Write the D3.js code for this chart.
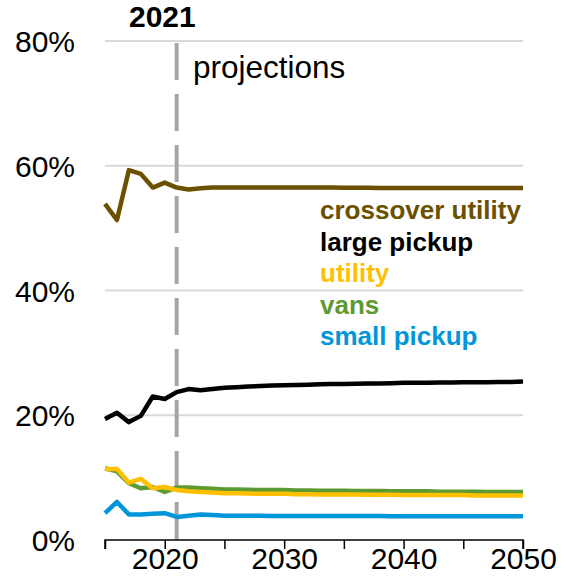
<!DOCTYPE html>
<html>
<head>
<meta charset="utf-8">
<script src="https://cdn.jsdelivr.net/npm/d3@7"></script>
<style>
  html, body { margin: 0; padding: 0; background: #fff; }
  svg { display: block; font-family: "Liberation Sans", Arial, sans-serif; }
</style>
</head>
<body>
<svg id="chart" width="568" height="588"></svg>
<script>
// ---- data ----
const years = [2015,2016,2017,2018,2019,2020,2021,2022,2023,2024,2025,2026,2027,2028,2029,2030,2031,2032,2033,2034,2035,2036,2037,2038,2039,2040,2041,2042,2043,2044,2045,2046,2047,2048,2049,2050];

const crossoverUtility = [53.9,51.3,59.3,58.7,56.5,57.3,56.5,56.2,56.4,56.5,56.5,56.5,56.5,56.5,56.5,56.5,56.5,56.5,56.5,56.5,56.48,56.47,56.46,56.45,56.45,56.45,56.45,56.45,56.45,56.45,56.45,56.45,56.45,56.45,56.45,56.45];
const largePickup     = [19.4,20.4,18.9,19.9,23.0,22.6,23.7,24.2,24.0,24.2,24.4,24.5,24.6,24.7,24.75,24.8,24.85,24.9,24.95,25.0,25.0,25.05,25.1,25.1,25.15,25.2,25.2,25.2,25.25,25.25,25.3,25.3,25.3,25.35,25.35,25.4];
const vans            = [11.5,11.0,9.1,8.3,8.5,7.7,8.4,8.4,8.3,8.2,8.1,8.1,8.05,8.0,8.0,8.0,7.95,7.95,7.9,7.9,7.9,7.85,7.85,7.85,7.8,7.8,7.8,7.8,7.75,7.75,7.75,7.75,7.7,7.7,7.7,7.7];
const utility         = [11.4,11.4,9.2,9.8,8.3,8.5,8.0,7.8,7.7,7.6,7.5,7.5,7.45,7.4,7.4,7.4,7.35,7.35,7.3,7.3,7.3,7.3,7.25,7.25,7.25,7.2,7.2,7.2,7.2,7.2,7.2,7.15,7.15,7.15,7.15,7.15];
const smallPickup     = [4.3,6.1,4.1,4.1,4.2,4.3,3.7,3.9,4.1,4.0,3.9,3.9,3.9,3.9,3.85,3.85,3.85,3.85,3.85,3.85,3.85,3.85,3.85,3.85,3.8,3.8,3.8,3.8,3.8,3.8,3.8,3.8,3.8,3.8,3.8,3.8];

const seriesNames  = ["crossover utility","large pickup","utility","vans","small pickup"];
const seriesColors = ["#6B5000","#000000","#FFC000","#5E9A32","#0096D7"];
const yTicks = [0,20,40,60,80];
const xTicks = [2015,2020,2025,2030,2035,2040,2045,2050];
const xLabels = [2020,2030,2040,2050];
const dividerYear = 2021;

const seriesValues = {
  "crossover utility": crossoverUtility,
  "large pickup": largePickup,
  "utility": utility,
  "vans": vans,
  "small pickup": smallPickup
};
const drawOrder = ["crossover utility","large pickup","vans","utility","small pickup"];

// ---- layout ----
const svg = d3.select("#chart");
const x = d3.scaleLinear().domain([2015, 2050]).range([105, 523]);
const y = d3.scaleLinear().domain([0, 80]).range([540, 41]);
const color = d3.scaleOrdinal().domain(seriesNames).range(seriesColors);

// gridlines
svg.append("g").selectAll("line").data(yTicks.filter(d => d > 0)).join("line")
  .attr("x1", x(2015)).attr("x2", x(2050))
  .attr("y1", d => y(d)).attr("y2", d => y(d))
  .attr("stroke", "#d9d9d9").attr("stroke-width", 2);

// y labels
svg.append("g").selectAll("text").data(yTicks).join("text")
  .attr("x", 75).attr("y", d => y(d) + 11)
  .attr("text-anchor", "end")
  .style("font-size", "30px").attr("fill", "#000")
  .text(d => d + "%");

// dashed divider
svg.append("line")
  .attr("x1", x(dividerYear)).attr("x2", x(dividerYear))
  .attr("y1", y(80) + 2).attr("y2", y(0))
  .attr("stroke", "#a6a6a6").attr("stroke-width", 4)
  .attr("stroke-dasharray", "37,14");

svg.append("text")
  .attr("x", 129).attr("y", 27)
  .style("font-size", "30px").style("font-weight", "bold")
  .text("2021");

svg.append("text")
  .attr("x", 193).attr("y", 78)
  .style("font-size", "31.5px")
  .text("projections");

// x axis
const xAxis = d3.axisBottom(x)
  .tickValues(xTicks)
  .tickSize(9)
  .tickFormat(d => xLabels.includes(d) ? d : "");
const gx = svg.append("g").attr("transform", `translate(0,${y(0)})`).call(xAxis);
gx.select(".domain").attr("stroke", "#000").attr("stroke-width", 1.5).attr("d", `M${x(2015)},9V0H${x(2050)}V9`);
gx.selectAll(".tick line").attr("stroke", "#000").attr("stroke-width", 1.5);
gx.selectAll(".tick text")
  .attr("y", 29).attr("dy", 0)
  .style("font-size", "30px").style("font-family", "'Liberation Sans', Arial, sans-serif")
  .attr("fill", "#000");

// lines
const line = d3.line()
  .x((d, i) => x(years[i]))
  .y(d => y(d));

svg.append("g").selectAll("path").data(drawOrder).join("path")
  .attr("d", name => line(seriesValues[name]))
  .attr("fill", "none")
  .attr("stroke", name => color(name))
  .attr("stroke-width", 4.5)
  .attr("stroke-linejoin", "round");

// legend
svg.append("g").selectAll("text").data(seriesNames).join("text")
  .attr("x", 320).attr("y", (d, i) => 219 + i * 31.5)
  .style("font-size", "26px").style("font-weight", "bold")
  .attr("fill", d => color(d))
  .text(d => d);
</script>
</body>
</html>
